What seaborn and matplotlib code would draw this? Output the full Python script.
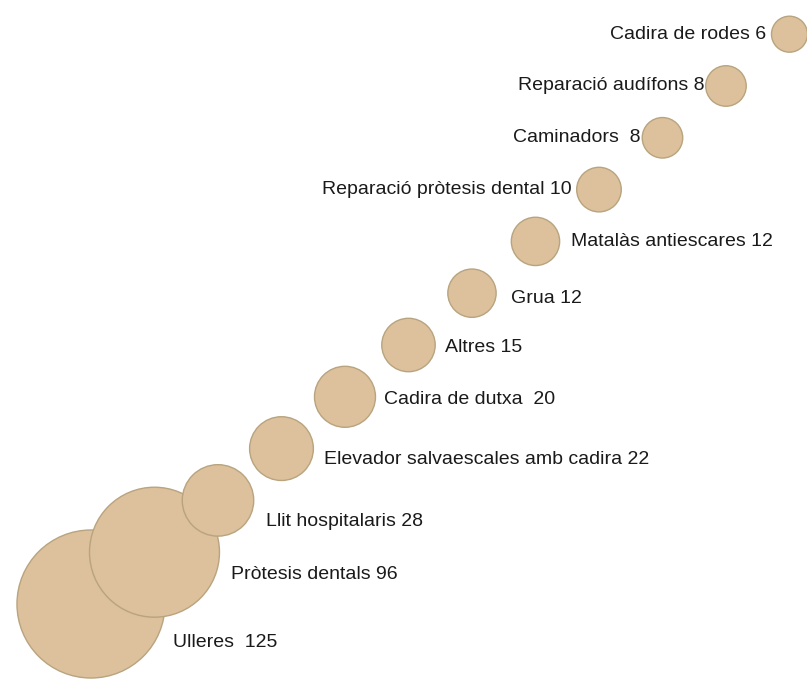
import numpy as np
import pandas as pd
import matplotlib
matplotlib.use('Agg')
import matplotlib.pyplot as plt
import seaborn as sns

# data
items = ['Ulleres ', 'Pròtesis dentals', 'Llit hospitalaris', 'Elevador salvaescales amb cadira',
         'Cadira de dutxa ', 'Altres', 'Grua', 'Matalàs antiescares', 'Reparació pròtesis dental',
         'Caminadors ', 'Reparació audífons', 'Cadira de rodes']
counts = [125, 96, 28, 22, 20, 15, 12, 12, 10, 8, 8, 6]

df = pd.DataFrame({'item': items, 'count': counts})
df['pos'] = np.arange(1, len(df) + 1)

# label placement (points): dx, dy, side
label_dx = [6, 8, 9, 8, 6, 7, 11, 8, -4, -1, -1, -4]
label_dy = [-28, -16, -15, -8, -2, -2, -4, 0, 0, 0, 0, 0]

sns.set_style('white')
plt.rcParams['font.family'] = ['Liberation Sans', 'DejaVu Sans']

fig = plt.figure(figsize=(8.07, 6.8), dpi=100)
ax = fig.add_axes([0, 0, 1, 1])

sns.scatterplot(data=df, x='pos', y='pos', size='count', sizes=(671, 11360),
                color='#ddc09c', edgecolor='#b8a47f', linewidth=1.0,
                alpha=1, legend=False, ax=ax)

fig.canvas.draw()
for i, row in df.iterrows():
    r_pt = np.sqrt(ax.collections[0].get_sizes()[i]) / 2
    label = f"{row['item']} {row['count']}"
    if label_dx[i] >= 0:
        ax.annotate(label, (row['pos'], row['pos']), xytext=(r_pt + label_dx[i], label_dy[i]),
                    textcoords='offset points', ha='left', va='center',
                    fontsize=14, color='#1a1a1a')
    else:
        ax.annotate(label, (row['pos'], row['pos']), xytext=(-r_pt + label_dx[i], label_dy[i]),
                    textcoords='offset points', ha='right', va='center',
                    fontsize=14, color='#1a1a1a')

ax.set_xlim(-0.433, 12.276)
ax.set_ylim(-0.467, 12.66)
ax.axis('off')

fig.savefig('out.png', dpi=100, facecolor='white')
